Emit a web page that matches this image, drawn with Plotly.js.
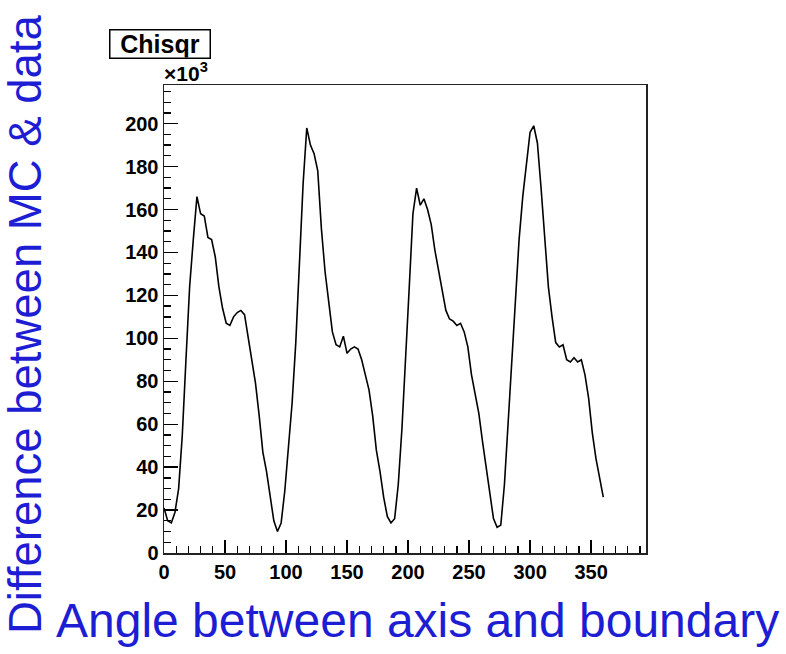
<!DOCTYPE html>
<html>
<head>
<meta charset="utf-8">
<script src="https://cdn.plot.ly/plotly-3.0.1.min.js"></script>
<style>
  html, body { margin: 0; padding: 0; background: #ffffff; }
  #chart { width: 786px; height: 654px; }
</style>
</head>
<body>
<div id="chart"></div>
<script>
// Chi-square (in units of 10^3) sampled every 3 degrees of angle.
const angles = [
  0, 3, 6, 9, 12, 15, 18, 21, 24, 27,
  30, 33, 36, 39, 42, 45, 48, 51, 54, 57,
  60, 63, 66, 69, 72, 75, 78, 81, 84, 87,
  90, 93, 96, 99, 102, 105, 108, 111, 114, 117,
  120, 123, 126, 129, 132, 135, 138, 141, 144, 147,
  150, 153, 156, 159, 162, 165, 168, 171, 174, 177,
  180, 183, 186, 189, 192, 195, 198, 201, 204, 207,
  210, 213, 216, 219, 222, 225, 228, 231, 234, 237,
  240, 243, 246, 249, 252, 255, 258, 261, 264, 267,
  270, 273, 276, 279, 282, 285, 288, 291, 294, 297,
  300, 303, 306, 309, 312, 315, 318, 321, 324, 327,
  330, 333, 336, 339, 342, 345, 348, 351, 354, 357,
  360
];
const chisq = [
  21, 15, 14, 19, 30, 55, 90, 124, 146, 166,
  158, 157, 147, 146, 138, 124, 114, 107, 106, 110,
  112, 113, 111, 101, 91, 79, 64, 47, 38, 26,
  15, 10, 14, 29, 48, 70, 98, 135, 172, 198,
  190, 186, 178, 151, 131, 117, 103, 97, 96, 101,
  93, 95, 96, 95, 90, 83, 76, 64, 48, 38,
  26, 17, 14, 16, 32, 58, 88, 124, 158, 170,
  162, 165, 160, 153, 141, 131, 122, 113, 109, 108,
  106, 107, 103, 96, 83, 73, 65, 52, 40, 28,
  16, 12, 13, 32, 60, 88, 114, 146, 166, 180,
  196, 199, 191, 170, 148, 124, 110, 98, 96, 97,
  90, 89, 91, 89, 90, 83, 72, 56, 44, 34,
  26
];

const xTickVals = [0, 50, 100, 150, 200, 250, 300, 350];
const yTickVals = [0, 20, 40, 60, 80, 100, 120, 140, 160, 180, 200];

const tickFont = { family: 'Liberation Sans, Arial, sans-serif', size: 20, color: '#000000', weight: 'bold' };
const blue = '#1d1dd4';

const trace = {
  type: 'scatter',
  mode: 'lines',
  x: angles,
  y: chisq,
  line: { color: '#000000', width: 1.6, shape: 'linear' },
  hoverinfo: 'skip'
};

const layout = {
  width: 786,
  height: 654,
  margin: { l: 164, r: 140, t: 85, b: 101, pad: 0 },
  paper_bgcolor: '#ffffff',
  plot_bgcolor: '#ffffff',
  showlegend: false,
  xaxis: {
    range: [0, 395],
    showgrid: false,
    zeroline: false,
    showline: true,
    linecolor: '#222222',
    linewidth: 1.5,
    mirror: true,
    ticks: 'inside',
    ticklen: 13,
    tickwidth: 1.3,
    tickcolor: '#000000',
    tickmode: 'array',
    tickvals: xTickVals,
    ticktext: xTickVals.map(String),
    tickfont: tickFont,
    minor: { ticks: 'inside', ticklen: 7, tickwidth: 1.3, tickcolor: '#000000', dtick: 10, showgrid: false }
  },
  yaxis: {
    range: [0, 218],
    showgrid: false,
    zeroline: false,
    showline: true,
    linecolor: '#222222',
    linewidth: 1.5,
    mirror: true,
    ticks: 'inside',
    ticklen: 14,
    tickwidth: 1.3,
    tickcolor: '#000000',
    tickmode: 'array',
    tickvals: yTickVals,
    ticktext: yTickVals.map(String),
    tickfont: tickFont,
    minor: { ticks: 'inside', ticklen: 7, tickwidth: 1.3, tickcolor: '#000000', dtick: 5, showgrid: false }
  },
  annotations: [
    {
      // exponent of the y scale
      xref: 'paper', yref: 'paper',
      x: -0.004, y: 0.995,
      xanchor: 'left', yanchor: 'bottom',
      text: '×10<sup>3</sup>',
      showarrow: false,
      font: { family: 'Liberation Sans, Arial, sans-serif', size: 21, color: '#000000', weight: 'bold' }
    },
    {
      // histogram title box
      xref: 'paper', yref: 'paper',
      x: (160 - 164) / 482, y: (553 - 43.5) / 468,
      xanchor: 'center', yanchor: 'middle',
      text: 'Chisqr',
      showarrow: false,
      width: 99, height: 27,
      bgcolor: '#ffffff',
      bordercolor: '#000000',
      borderwidth: 1.5,
      borderpad: 0,
      font: { family: 'Liberation Sans, Arial, sans-serif', size: 25, color: '#000000', weight: 'bold' }
    },
    {
      xref: 'paper', yref: 'paper',
      x: (417 - 164) / 482, y: (553 - 620) / 468,
      xanchor: 'center', yanchor: 'middle',
      text: 'Angle between axis and boundary',
      showarrow: false,
      font: { family: 'Liberation Sans, Arial, sans-serif', size: 48, color: blue }
    },
    {
      xref: 'paper', yref: 'paper',
      x: (25 - 164) / 482, y: (553 - 324) / 468,
      xanchor: 'center', yanchor: 'middle',
      text: 'Difference between MC &amp; data',
      textangle: -90,
      showarrow: false,
      font: { family: 'Liberation Sans, Arial, sans-serif', size: 45.5, color: blue }
    }
  ]
};

Plotly.newPlot('chart', [trace], layout, { staticPlot: true, displayModeBar: false });
</script>
</body>
</html>
